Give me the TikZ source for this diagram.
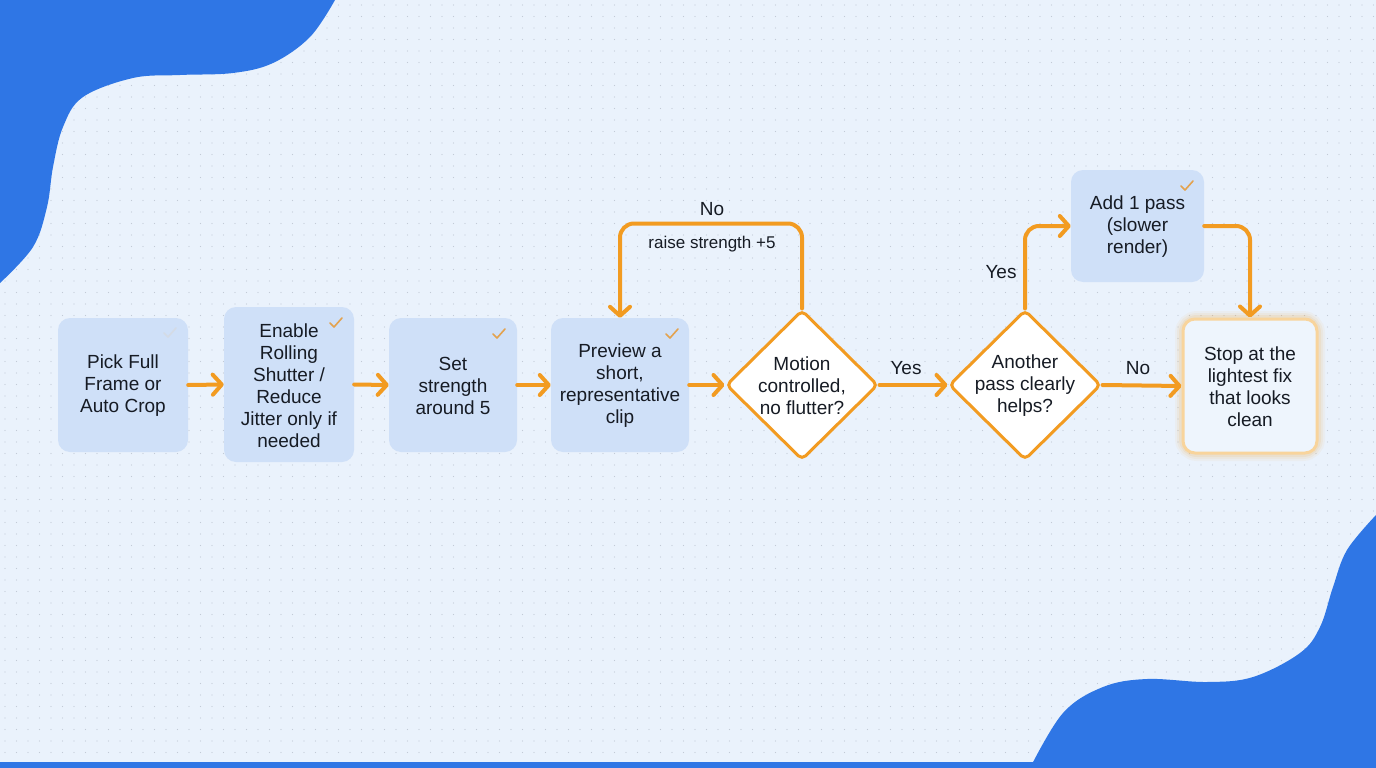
\documentclass[tikz,border=0pt]{standalone}
\usepackage{fontspec}
\setmainfont{Liberation Sans}
\usetikzlibrary{arrows.meta,shapes.geometric}
\definecolor{bgc}{HTML}{EAF2FC}
\definecolor{blobc}{HTML}{2F76E5}
\definecolor{boxc}{HTML}{CFE0F8}
\definecolor{orn}{HTML}{F29B21}
\definecolor{ink}{HTML}{161B24}
\definecolor{dotc}{HTML}{C2CAD6}
\definecolor{chkc}{HTML}{E3A24E}
\definecolor{stopfill}{HTML}{EEF5FD}
\definecolor{stopedge}{HTML}{F8D49C}
\begin{document}
\begin{tikzpicture}[x=1pt,y=-1pt,
  lbl/.style={font=\fontsize{19}{22}\selectfont, text=ink, align=center},
  box/.style={lbl, rounded corners=12pt, fill=boxc, inner sep=0pt},
  dec/.style={diamond, draw=orn, line width=3pt, fill=white, aspect=1.01,
     minimum width=152pt, minimum height=150pt, inner sep=0pt, rounded corners=5pt},
  flow/.style={draw=orn, line width=4pt, line cap=round, line join=round, rounded corners=14pt,
     -{Straight Barb[length=9pt,width=20pt,line cap=round,line join=round]}},
  small/.style={font=\fontsize{17}{20}\selectfont, text=ink},
  chk/.pic={\draw[line width=1.6pt,line cap=round,line join=round] (-6,0) -- (-2,4) -- (6,-5);}
]
\useasboundingbox (0,0) rectangle (1376,768);
\fill[bgc] (0,0) rectangle (1376,768);
\foreach \yy in {5,16.5,...,768}
  \draw[dotc, line width=1.4pt, line cap=round, dash pattern=on 0pt off 11.5pt] (5,\yy) -- (1376,\yy);
% blobs
\fill[blobc] (0,0) -- plot[smooth,tension=0.6] coordinates {(335,0) (310,37) (273,63) (233,73) (180,75) (133,78) (83,97) (63,127) (53,167) (47,207) (33,247) (0,283)} -- cycle;
\fill[blobc] (1376,768) -- plot[smooth,tension=0.6] coordinates {(1376,515) (1347,550) (1333,587) (1320,627) (1300,653) (1253,677) (1207,682) (1147,679) (1103,687) (1063,713) (1030,768)} -- cycle;
\fill[blobc] (0,762) rectangle (1376,768);

% nodes
\node[box, minimum width=130pt, minimum height=134pt] (n1) at (123,385) {\strut Pick Full\\Frame or\\Auto Crop};
\node[box, minimum width=130pt, minimum height=155pt] (n2) at (289,384.5) {\strut Enable\\Rolling\\Shutter /\\Reduce\\Jitter only if\\needed};
\node[box, minimum width=128pt, minimum height=134pt] (n3) at (453,385) {\strut Set\\strength\\around 5};
\node[box, minimum width=138pt, minimum height=134pt] (n4) at (620,385) {\strut Preview a\\short,\\representative\\clip};
\node[dec] (d1) at (802,385) {};
\node[lbl] (d1t) at (d1.center) {\strut Motion\\controlled,\\no flutter?};
\node[dec] (d2) at (1025,385) {};
\node[lbl] (d2t) at (d2.center) {\strut Another\\pass clearly\\helps?};
\node[box, minimum width=133pt, minimum height=112pt] (n7) at (1137.5,226) {\strut Add 1 pass\\(slower\\render)};
% glow for stop node
\foreach \g/\o in {16/0.05,12/0.07,8/0.10}
  \draw[orn, opacity=\o, line width=\g pt, rounded corners=14pt] (1183,319) rectangle (1317,453);
\node[lbl, rounded corners=12pt, fill=stopfill, draw=stopedge, line width=3pt,
  minimum width=134pt, minimum height=134pt, inner sep=0pt] (n8) at (1250,386) {\strut Stop at the\\lightest fix\\that looks\\clean};

% check marks
\pic[color=boxc!70!gray!60] at (170,333) {chk};
\pic[color=chkc] at (336,323) {chk};
\pic[color=chkc] at (499,334) {chk};
\pic[color=chkc] at (672,334) {chk};
\pic[color=chkc] at (1187,186) {chk};

% connectors
\draw[flow] (n1.east) -- (n2.west);
\draw[flow] (n2.east) -- (n3.west);
\draw[flow] (n3.east) -- (n4.west);
\draw[flow] (n4.east) -- (d1.west);
\draw[flow] (d1.east) -- (d2.west);
\draw[flow] (d2.east) -- (n8.west);
\draw[flow] (d1.north) -- ++(0,-85) -| (n4.north);
\draw[flow] (d2.north) |- (n7.west);
\draw[flow] (n7.east) -| (n8.north);

% labels
\node[lbl] (lno1) at (712,209) {No};
\node[small] (lraise) at (712,244) {raise strength +5};
\node[lbl] (lyes1) at (906,368) {Yes};
\node[lbl] (lyes2) at (1001,272) {Yes};
\node[lbl] (lno2) at (1138,368) {No};
\end{tikzpicture}
\end{document}
